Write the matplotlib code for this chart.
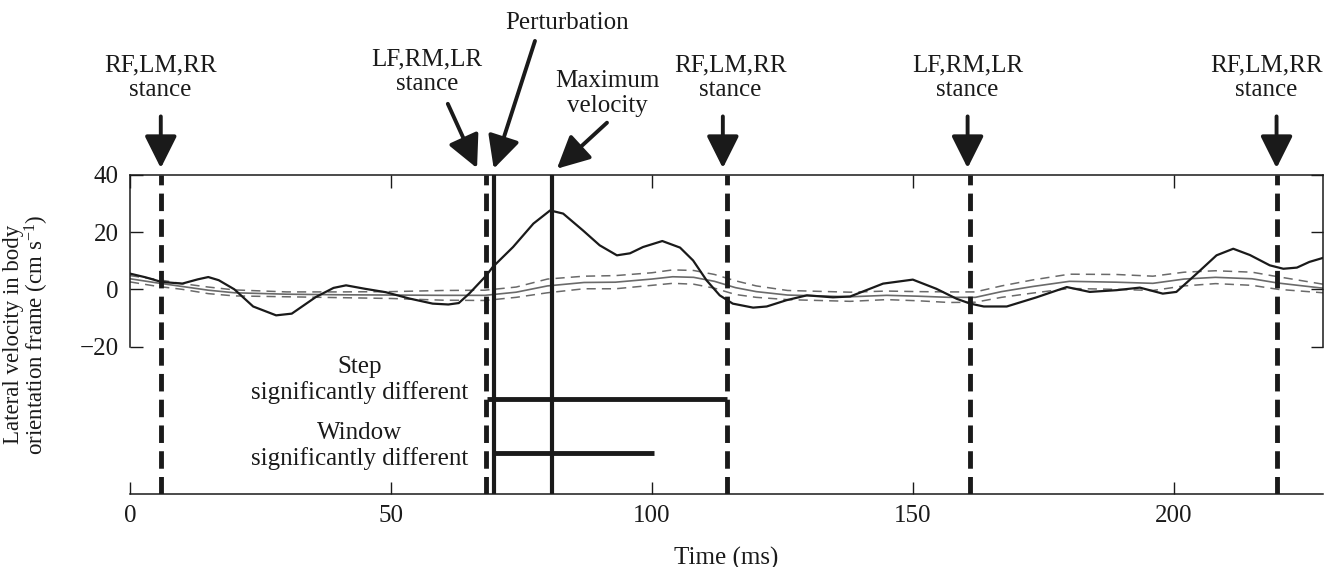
"""
Lateral velocity of a running cockroach around a lateral perturbation
"""
import matplotlib
matplotlib.use("Agg")
import matplotlib.pyplot as plt

plt.rcParams['font.family'] = ['Liberation Serif', 'DejaVu Serif']
plt.rcParams['mathtext.fontset'] = 'custom'
plt.rcParams['mathtext.rm'] = 'Liberation Serif'
plt.rcParams['mathtext.it'] = 'Liberation Serif:italic'
plt.rcParams['font.size'] = 18

INK = '#1a1a1a'

# perturbed trial (black line), time in ms, velocity in cm/s
trial_t = [0, 3, 6, 10, 13, 15, 17, 20, 23.6, 28, 31, 35.6, 39, 41.4, 45, 49,
           53.5, 58, 61, 63, 65, 68.3, 69.5, 73.4, 77.3, 80.5, 83, 86.8, 90,
           93.3, 95.8, 98.3, 102, 105.4, 107.9, 110.5, 113, 115.5, 119.4, 122,
           125.8, 129.7, 134.7, 138, 144.3, 150, 154.5, 158.4, 161, 163.6, 168,
           173.7, 179.5, 183.9, 189, 193.5, 197.9, 200.5, 204.4, 208.2, 211.4,
           214.6, 218.4, 221, 223.6, 226, 228.6]
trial_v = [5.5, 4.2, 2.6, 2.0, 3.5, 4.3, 3.2, 0.0, -6.0, -9.1, -8.5, -2.7, 0.5,
           1.4, 0.2, -1.0, -3.2, -5.0, -5.3, -4.8, -1.5, 4.9, 7.8, 14.8, 23.0,
           27.6, 26.5, 20.6, 15.4, 11.9, 12.6, 14.8, 16.9, 14.6, 10.1, 3.1,
           -2.1, -5.0, -6.4, -6.0, -3.8, -2.1, -2.8, -2.5, 2.0, 3.4, 0.2, -3.3,
           -5.0, -6.0, -6.0, -2.8, 0.8, -0.9, -0.3, 0.6, -1.5, -0.9, 5.5, 11.9,
           14.2, 12.0, 8.4, 7.2, 7.6, 9.6, 11.0]

# unperturbed mean (grey) with its dashed bounds
mean_t = [0, 5, 10, 15, 20, 30, 40, 50, 60, 68, 74, 80, 87, 93, 100, 104, 108,
          112, 116, 120, 126, 138, 145, 151, 157, 162, 167, 173, 180, 189, 196,
          202, 208, 215, 220, 228.6]
mean_v = [3.7, 2.3, 1.0, -0.3, -1.2, -1.7, -1.9, -2.0, -2.1, -2.1, -1.0, 1.2,
          2.4, 2.5, 3.6, 4.4, 4.2, 2.8, 0.6, -0.8, -2.0, -2.6, -2.1, -2.4, -2.8,
          -2.8, -0.8, 1.0, 2.8, 2.5, 2.1, 3.6, 4.2, 3.7, 2.2, 0.4]
upper_v = [4.8, 3.5, 2.0, 0.8, -0.2, -0.9, -0.9, -0.8, -0.4, -0.3, 0.8, 3.6,
           4.6, 4.8, 5.8, 6.8, 6.6, 5.2, 3.0, 1.2, -0.4, -1.0, -0.6, -0.8, -0.9,
           -0.9, 1.2, 3.3, 5.3, 5.2, 4.6, 6.0, 6.5, 6.0, 4.4, 1.8]
lower_v = [2.6, 1.1, 0.0, -1.5, -2.3, -2.6, -2.9, -3.2, -3.8, -3.9, -2.8, -1.2,
           0.2, 0.2, 1.4, 2.1, 1.8, 0.4, -1.8, -2.8, -3.6, -4.2, -3.6, -4.0,
           -4.6, -4.5, -2.8, -1.3, 0.3, 0.0, -0.4, 1.2, 2.0, 1.4, 0.0, -1.2]

# events
stance_t = [6, 68.3, 114.4, 161, 219.8]
stance_labels = ['RF,LM,RR', 'LF,RM,LR', 'RF,LM,RR', 'LF,RM,LR', 'RF,LM,RR']
stance_text_t = [5.8, 56.9, 115.0, 160.5, 217.8]
stance_tail_t = [5.9, 60.9, 113.6, 160.5, 219.7]
stance_tip_t = [5.9, 66.5, 113.6, 160.5, 219.7]
perturb_t = 69.7
maxvel_t = 80.8

# significance bars: start, end, level
step_bar = (68.4, 114.4, -38.4)
window_bar = (69.5, 100.4, -57.1)

fig = plt.figure(figsize=(13.25, 5.67), dpi=100)
ax = fig.add_axes([130 / 1325, 1 - 494 / 567, 1193 / 1325, 319 / 567])

ax.plot(mean_t, upper_v, color='#6a6a6a', lw=1.1, dashes=(6, 4))
ax.plot(mean_t, lower_v, color='#6a6a6a', lw=1.1, dashes=(6, 4))
ax.plot(mean_t, mean_v, color='#6a6a6a', lw=1.2)
ax.plot(trial_t, trial_v, color=INK, lw=1.6)

for t in stance_t:
    ax.axvline(t, color=INK, lw=3.5, dashes=(3.6, 1.7))
ax.axvline(perturb_t, color=INK, lw=3.0)
ax.axvline(maxvel_t, color=INK, lw=3.0)

ax.hlines(step_bar[2], step_bar[0], step_bar[1], color=INK, lw=3.5)
ax.hlines(window_bar[2], window_bar[0], window_bar[1], color=INK, lw=3.5)
ax.text(44, -31.8, 'Step\nsignificantly different', ha='center',
        va='center', color=INK, linespacing=1.15)
ax.text(44, -54.8, 'Window\nsignificantly different', ha='center',
        va='center', color=INK, linespacing=1.15)

arrow = dict(arrowstyle='-|>,head_length=0.9,head_width=0.45', color=INK,
             lw=2.8, shrinkA=0, shrinkB=0, mutation_scale=22)

# stance annotations above the plot
for lab, tx, t0, t1 in zip(stance_labels, stance_text_t, stance_tail_t,
                           stance_tip_t):
    tail_v = 64.9 if t0 != t1 else 60.5
    ax.annotate('', xy=(t1, 42.4), xytext=(t0, tail_v), arrowprops=arrow,
                annotation_clip=False)
    text_v = 76.3 if t0 != t1 else 74.2
    ax.text(tx, text_v, lab + '\nstance', ha='center', va='center',
            color=INK, linespacing=1.15, clip_on=False)

ax.annotate('', xy=(perturb_t, 42.2), xytext=(77.6, 86.9), arrowprops=arrow,
            annotation_clip=False)
ax.text(83.7, 93.2, 'Perturbation', ha='center', va='center', color=INK,
        clip_on=False)
ax.annotate('', xy=(81.8, 42.2), xytext=(91.4, 58.3), arrowprops=arrow,
            annotation_clip=False)
ax.text(91.4, 68.6, 'Maximum\nvelocity', ha='center', va='center', color=INK,
        linespacing=1.15, clip_on=False)

ax.set_xlim(0, 228.6)
ax.set_ylim(-71.6, 40)
ax.set_xticks([0, 50, 100, 150, 200])
ax.set_yticks([-20, 0, 20, 40])
ax.set_yticklabels(['\u221220', '0', '20', '40'])
ax.tick_params(direction='in', length=9, width=1, top=True, right=True,
               colors=INK, labelsize=18, pad=8)
ax.spines['left'].set_bounds(-20, 40)
ax.spines['right'].set_bounds(-20, 40)
for s in ax.spines.values():
    s.set_linewidth(1.1)
    s.set_color(INK)

ax.set_xlabel('Time (ms)', color=INK, labelpad=14)
ax.set_ylabel('Lateral velocity in body\norientation frame (cm s$^{-1}$)',
              color=INK, fontsize=16.5, multialignment='center',
              linespacing=0.95)
ax.yaxis.set_label_coords(-0.066, 0.5)

fig.savefig('out.png', dpi=100)
